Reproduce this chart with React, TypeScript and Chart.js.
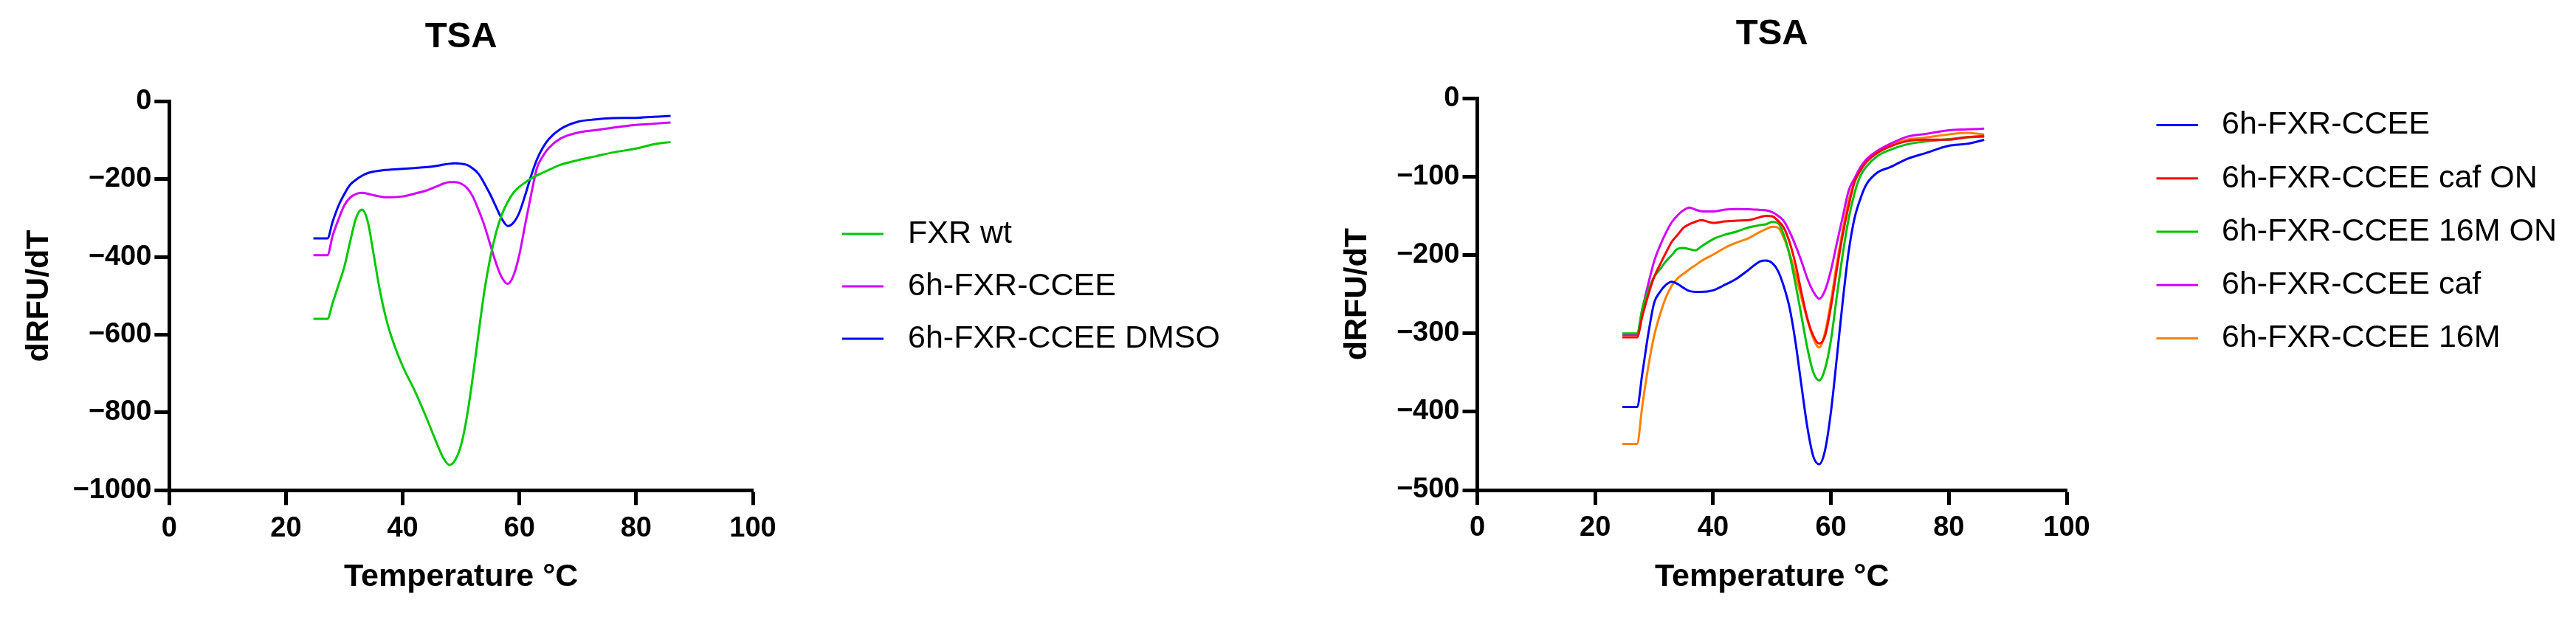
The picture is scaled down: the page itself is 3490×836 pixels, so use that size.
import React, { useEffect, useRef } from "react";
import { Chart, registerables } from "chart.js";

Chart.register(...registerables);

const FONT = "'Liberation Sans', Arial, Helvetica, sans-serif";

// ---------- shared ticks ----------
const xTicks = [0, 20, 40, 60, 80, 100];
const yTicksLeft = [-1000, -800, -600, -400, -200, 0];
const yTicksRight = [-500, -400, -300, -200, -100, 0];

// ---------- left panel ----------
const leftTemps = [24.7, 27.1, 28, 29, 30, 31, 32, 33, 34, 35, 36, 37, 38, 40, 42, 44, 46, 47, 48, 49, 50, 51, 52, 53, 54, 55, 56, 57, 58, 59, 60, 61, 62, 63, 64, 65, 67, 70, 73, 76, 80, 83, 85.9];
const fxrWt = [-559, -559, -518, -472, -425, -360, -300, -278, -308, -391, -479, -549, -602, -681, -742, -811, -885, -918, -935, -922, -884, -811, -710, -596, -487, -402, -337, -290, -258, -234, -219, -208, -198, -190, -183, -176, -163, -151, -141, -131, -121, -110, -104];
const ccee = [-395, -395, -345, -303, -267, -247, -238, -235, -237, -241, -244, -246, -246, -244, -237, -229, -217, -211, -207, -207, -211, -222, -244, -279, -319, -368, -416, -453, -469, -447, -393, -315, -240, -171, -141, -120, -95.5, -80, -73.5, -67, -60, -57, -54];
const cceeDmso = [-352, -352, -309, -268, -238, -214, -201, -191, -184, -180, -178, -176, -175, -173, -171, -169, -165, -162, -160, -159, -160, -163, -172, -186, -211, -239, -271, -302, -320, -311, -285, -240, -191, -149, -119, -97, -71, -52, -46, -42.5, -42, -39, -37];

// ---------- right panel ----------
const rightTemps = [24.6, 27.1, 28, 29, 30, 31, 32, 33, 34, 35, 36, 37, 38, 40, 42, 44, 46, 48, 49, 50, 51, 52, 53, 54, 55, 56, 57, 58, 59, 60, 61, 62, 63, 64, 65, 66, 68, 70, 73, 76, 80, 83, 86];
const rCcee = [-394, -394, -351, -301, -261, -247, -238, -234, -237, -242, -246, -247, -247, -245, -238, -230, -219, -208, -207, -210, -220, -240, -268, -312, -367, -420, -457, -467, -449, -400, -331, -259, -196, -153, -128, -110, -94, -88, -77, -70, -60.5, -58, -53];
const rCafOn = [-305, -305, -278, -251, -228, -212, -197, -183, -174, -165, -160.5, -157.5, -155.5, -159, -157, -156, -155.5, -151.5, -150, -150.5, -156, -165, -184, -212, -248, -281, -303, -313, -303, -266, -218, -174, -137, -107, -92, -81.5, -69, -61.5, -54.5, -52.8, -52.8, -49.7, -48];
const r16mOn = [-300, -300, -268, -245, -228, -218, -208, -200, -192, -191, -192.5, -194, -189, -179.7, -174, -170, -164.8, -161.7, -160.7, -157.8, -159, -174, -200.6, -237.6, -278, -319, -349.5, -360, -345, -308.5, -252.6, -198.8, -153.7, -121, -98.8, -87.2, -72.9, -65.7, -58.5, -55.1, -52, -49.7, -49];
const rCaf = [-302, -302, -269, -237, -208, -188, -171.5, -158, -149, -142.7, -139.5, -142, -144, -144.3, -142, -141.3, -141.4, -142.4, -143, -145.2, -149.7, -156.5, -170.5, -188, -208, -230, -246.6, -255.8, -245, -219.3, -185, -151, -118, -102, -88, -78, -66.4, -58.3, -48.8, -45.5, -40.7, -39.6, -38.6];
const r16m = [-441, -441, -392, -343, -303, -276, -254, -239, -229.6, -223.8, -218, -213, -207.7, -199.5, -190.7, -184, -178.5, -170.3, -166.9, -163.8, -165, -178, -199, -225, -254.6, -283, -306, -318, -299, -258.6, -211, -168, -130, -106.8, -88, -78.6, -67.1, -60, -52.5, -50, -46, -44, -46];

const leftSeries = [
  { label: "FXR wt", color: "#00C800", values: fxrWt },
  { label: "6h-FXR-CCEE", color: "#D200FF", values: ccee },
  { label: "6h-FXR-CCEE DMSO", color: "#0000FF", values: cceeDmso },
];

const rightSeries = [
  { label: "6h-FXR-CCEE", color: "#0000FF", values: rCcee },
  { label: "6h-FXR-CCEE caf ON", color: "#FF0000", values: rCafOn },
  { label: "6h-FXR-CCEE 16M ON", color: "#00C000", values: r16mOn },
  { label: "6h-FXR-CCEE caf", color: "#D200FF", values: rCaf },
  { label: "6h-FXR-CCEE 16M", color: "#FF8000", values: r16m },
];

const sideLegend = {
  id: "sideLegend",
  afterDraw(chart: any, _args: any, opts: any) {
    const ctx = chart.ctx;
    ctx.save();
    ctx.font = `${opts.fontSize}px ${FONT}`;
    ctx.textBaseline = "middle";
    ctx.textAlign = "left";
    chart.data.datasets.forEach((ds: any, i: number) => {
      const y = opts.y + i * opts.dy;
      ctx.strokeStyle = ds.borderColor;
      ctx.lineWidth = opts.lineWidth;
      ctx.lineCap = "butt";
      ctx.beginPath();
      ctx.moveTo(opts.lineX, y);
      ctx.lineTo(opts.lineX + opts.lineLen, y);
      ctx.stroke();
      ctx.fillStyle = "#000";
      ctx.fillText(ds.label, opts.textX, y);
    });
    ctx.restore();
  },
};

const fmt = (v: any) => {
  const n = Number(v);
  return n < 0 ? "\u2212" + Math.abs(n) : String(n);
};

function makeConfig(p: any) {
  return {
    type: "line",
    data: {
      datasets: p.series.map((s: any) => ({
        label: s.label,
        data: p.temps.map((t: number, i: number) => ({ x: t, y: s.values[i] })),
        borderColor: s.color,
        backgroundColor: s.color,
        borderWidth: 3,
        pointRadius: 0,
        pointHoverRadius: 0,
        fill: false,
        cubicInterpolationMode: "monotone",
      })),
    },
    options: {
      animation: false,
      responsive: false,
      devicePixelRatio: 1,
      events: [],
      layout: { padding: { left: 0, top: 0, right: p.padRight, bottom: 0 } },
      plugins: {
        legend: { display: false },
        tooltip: { enabled: false },
        title: {
          display: true,
          text: "TSA",
          fullSize: false,
          color: "#000",
          font: { family: FONT, size: 49, weight: "bold" },
          padding: { top: p.titleTop, bottom: p.titleBottom },
        },
        sideLegend: p.legend,
      },
      scales: {
        x: {
          type: "linear",
          min: 0,
          max: 100,
          afterBuildTicks: (s: any) => {
            s.ticks = xTicks.map((v) => ({ value: v }));
          },
          afterFit: (s: any) => {
            s.height = p.xAxisHeight;
          },
          border: { display: true, color: "#000", width: 5 },
          grid: { drawOnChartArea: false, drawTicks: true, tickLength: 20, tickWidth: 5, tickColor: "#000" },
          ticks: {
            color: "#000",
            font: { family: FONT, size: 38, weight: "bold" },
            padding: 9,
            maxRotation: 0,
            autoSkip: false,
            callback: fmt,
          },
          title: {
            display: true,
            text: "Temperature °C",
            color: "#000",
            font: { family: FONT, size: 43, weight: "bold" },
            padding: { top: 0, bottom: 28.2 },
          },
        },
        y: {
          type: "linear",
          min: p.yTicks[0],
          max: 0,
          afterBuildTicks: (s: any) => {
            s.ticks = p.yTicks.map((v: number) => ({ value: v }));
          },
          afterFit: (s: any) => {
            s.width = p.yAxisWidth;
          },
          border: { display: true, color: "#000", width: 5 },
          grid: { drawOnChartArea: false, drawTicks: true, tickLength: 20, tickWidth: 5, tickColor: "#000" },
          ticks: {
            color: "#000",
            font: { family: FONT, size: 38, weight: "bold" },
            padding: 4,
            autoSkip: false,
            callback: fmt,
          },
          title: {
            display: true,
            text: "dRFU/dT",
            color: "#000",
            font: { family: FONT, size: 43, weight: "bold" },
            padding: { top: p.yTitlePad, bottom: 0 },
          },
        },
      },
    },
    plugins: [sideLegend],
  };
}

const leftParams = {
  temps: leftTemps,
  series: leftSeries,
  yTicks: yTicksLeft,
  padRight: 740,
  titleTop: 21.3,
  titleBottom: 57.5,
  xAxisHeight: 171.7,
  yAxisWidth: 229.3,
  yTitlePad: 27.5,
  legend: { lineX: 1141, lineLen: 56, textX: 1230, y: 317, dy: 71, fontSize: 43, lineWidth: 3 },
};

const rightParams = {
  temps: rightTemps,
  series: rightSeries,
  yTicks: yTicksRight,
  padRight: 690,
  titleTop: 17.3,
  titleBottom: 57.2,
  xAxisHeight: 172,
  yAxisWidth: 241.5,
  yTitlePad: 53.7,
  legend: { lineX: 1161.5, lineLen: 56.5, textX: 1250, y: 169.6, dy: 72.2, fontSize: 43, lineWidth: 3 },
};

function ChartPanel({ params, left, width }: { params: any; left: number; width: number }) {
  const ref = useRef<HTMLCanvasElement>(null);
  useEffect(() => {
    const chart = new Chart(ref.current as HTMLCanvasElement, makeConfig(params) as any);
    return () => chart.destroy();
  }, []);
  return (
    <canvas
      ref={ref}
      width={width}
      height={836}
      style={{ position: "absolute", left, top: 0, width, height: 836 }}
    />
  );
}

export default function App() {
  return (
    <div
      style={{
        position: "absolute",
        left: 0,
        top: 0,
        width: 3490,
        height: 836,
        background: "#fff",
        overflow: "hidden",
      }}
    >
      <ChartPanel params={leftParams} left={0} width={1760} />
      <ChartPanel params={rightParams} left={1760} width={1730} />
    </div>
  );
}
